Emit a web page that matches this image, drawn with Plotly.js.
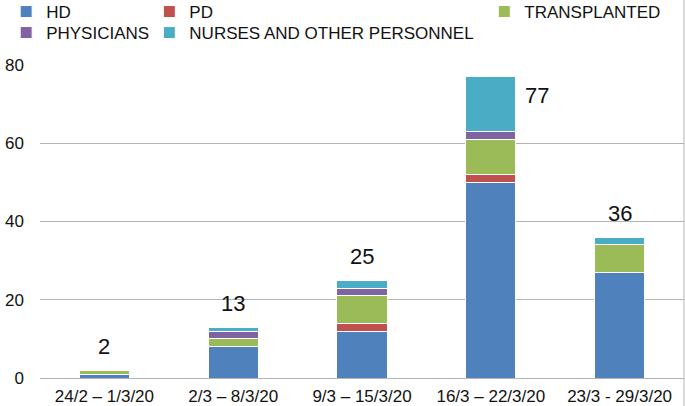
<!DOCTYPE html>
<html>
<head>
<meta charset="utf-8">
<script src="https://cdn.plot.ly/plotly-3.0.1.min.js"></script>
<style>html,body{margin:0;padding:0;background:#fff;}#chart{width:685px;height:406px;}</style>
</head>
<body>
<div id="chart"></div>
<script>
var weeks = ["24/2 – 1/3/20", "2/3 – 8/3/20", "9/3 – 15/3/20", "16/3 – 22/3/20", "23/3 - 29/3/20"];
var hd = [1, 8, 12, 50, 27];
var pd = [0, 0, 2, 2, 0];
var transplanted = [1, 2, 7, 9, 7];
var physicians = [0, 2, 2, 2, 0];
var nurses = [0, 1, 2, 14, 2];
var totals = [2, 13, 25, 77, 36];

var font = "Liberation Sans, Arial, Helvetica, sans-serif";
function bar(name, vals, color, legend) {
  return {
    type: "bar", name: name, x: weeks, y: vals, width: 0.39,
    marker: {color: color, line: {color: "#ffffff", width: 1}},
    legend: legend, hoverinfo: "y+name"
  };
}
var data = [
  bar("HD", hd, "#4F81BD", "legend"),
  bar("PD", pd, "#C0504D", "legend2"),
  bar("TRANSPLANTED", transplanted, "#9BBB59", "legend3"),
  bar("PHYSICIANS", physicians, "#8064A2", "legend4"),
  bar("NURSES AND OTHER PERSONNEL", nurses, "#4BACC6", "legend5")
];

var annotations = totals.map(function (t, i) {
  var side = (i === 3);
  return {
    x: weeks[i], y: t, xref: "x", yref: "y", text: String(t), showarrow: false,
    font: {family: font, size: 22, color: "#111"},
    xanchor: side ? "left" : "center", yanchor: side ? "top" : "bottom",
    xshift: side ? 32 : 0, yshift: side ? -4 : 9
  };
});

var legendBase = {
  orientation: "v", xref: "container", yref: "paper", xanchor: "left", yanchor: "top",
  font: {family: font, size: 17, color: "#111"}, bgcolor: "rgba(0,0,0,0)",
  traceorder: "normal", tracegroupgap: 0, itemclick: false, itemdoubleclick: false
};
function leg(x, y) { var o = Object.assign({}, legendBase); o.x = x; o.y = y; return o; }

var layout = {
  width: 685, height: 406,
  margin: {l: 40, r: 1, t: 65, b: 28, pad: 0, autoexpand: false},
  barmode: "stack",
  paper_bgcolor: "#fff", plot_bgcolor: "#fff",
  font: {family: font, size: 17, color: "#111"},
  showlegend: true,
  legend: leg(0.009, 1.2268),
  legend2: leg(0.218, 1.2268),
  legend3: leg(0.707, 1.2268),
  legend4: leg(0.009, 1.1597),
  legend5: leg(0.218, 1.1597),
  xaxis: {
    type: "category", showgrid: false, zeroline: false, showline: false, ticks: "",
    tickangle: 0, automargin: false, ticklabelstandoff: 6,
    tickfont: {family: font, size: 17, color: "#111"}, fixedrange: true
  },
  yaxis: {
    range: [0, 80], dtick: 20, showgrid: true, gridcolor: "#b4b4b4", gridwidth: 1,
    zeroline: true, zerolinecolor: "#b4b4b4", zerolinewidth: 1, showline: false,
    ticks: "", ticklabelstandoff: 15, automargin: false,
    tickfont: {family: font, size: 17, color: "#111"},
    fixedrange: true
  },
  shapes: [{
    type: "line", xref: "paper", yref: "paper", x0: 1, x1: 1, y0: -0.2, y1: 1.3,
    line: {color: "#b4b4b4", width: 1}
  }],
  annotations: annotations
};

Plotly.newPlot("chart", data, layout, {displayModeBar: false, staticPlot: true});
</script>
</body>
</html>
